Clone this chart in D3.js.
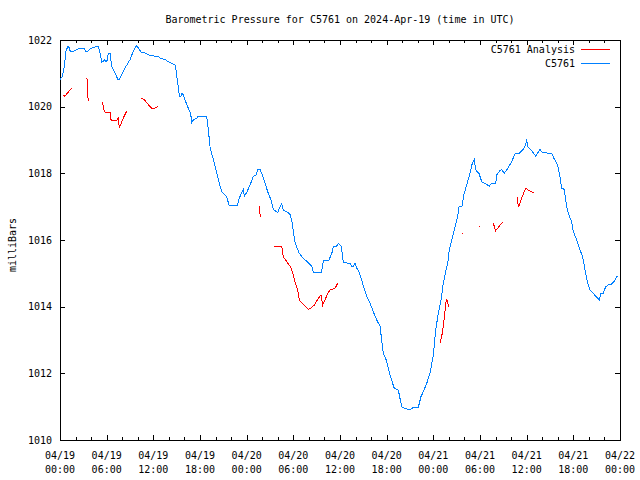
<!DOCTYPE html>
<html><head><meta charset="utf-8">
<script src="https://cdn.jsdelivr.net/npm/d3@7"></script>
<style>
body{margin:0;background:#fff}
text{font-family:"DejaVu Sans Mono",monospace;font-size:10px;fill:#000}
</style>
</head><body><svg id="c" width="640" height="480"></svg>
<script>
const titleText = "Barometric Pressure for C5761 on 2024-Apr-19 (time in UTC)";
const yLabel = "milliBars";
const seriesNames = ["C5761 Analysis", "C5761"];
const yTicks = [1010, 1012, 1014, 1016, 1018, 1020, 1022];
const startTime = Date.UTC(2024, 3, 19, 0, 0);
const endTime = Date.UTC(2024, 3, 22, 0, 0);

// Station observations: hours since 2024-04-19 00:00 UTC
const stationHours = [0,0.3,0.55,0.77,1.0,1.16,1.29,1.41,1.71,2.15,2.7,3.12,3.34,3.56,3.77,4.08,4.5,4.92,5.05,5.23,5.36,5.57,5.7,5.88,6.08,6.21,6.43,6.65,7.07,7.42,7.62,7.93,8.36,9.0,9.42,9.86,10.07,10.41,10.93,11.57,12.64,12.99,13.5,13.92,14.36,14.79,14.91,15.08,15.21,15.34,15.56,15.69,15.85,16.07,16.5,16.8,16.93,17.14,17.58,17.7,18.77,18.94,19.16,19.29,19.5,19.84,20.15,20.48,20.79,21.0,21.43,21.73,22.8,23.05,23.36,23.57,23.7,24.0,24.43,24.85,25.2,25.42,25.71,26.01,26.36,26.78,27.13,27.42,27.99,28.29,28.5,28.71,29.15,29.57,29.79,30.0,30.21,30.43,30.77,31.28,31.92,32.36,32.57,33.56,33.78,33.85,34.59,35.01,35.14,35.58,35.78,36.13,36.3,36.42,37.29,37.5,37.71,37.93,38.14,38.35,38.79,39.0,39.13,39.43,39.86,40.28,40.72,41.14,41.36,41.57,41.88,42.21,42.56,42.98,43.5,43.71,43.93,44.36,45.0,45.42,46.07,46.41,46.71,47.15,47.57,48.0,48.3,48.64,48.99,49.28,49.59,49.85,50.05,50.36,50.79,51.13,51.3,51.73,51.86,52.29,52.71,53.01,53.27,53.45,53.87,54.22,54.74,55.2,55.51,56.02,56.15,56.57,56.79,57.12,57.43,58.07,58.5,59.01,59.57,59.88,60.0,60.13,60.65,61.16,61.71,62.04,63.22,63.51,63.86,64.07,64.29,64.5,64.84,65.02,65.22,65.57,65.79,66.0,66.43,66.77,67.2,67.5,67.8,68.14,68.57,68.91,69.34,69.52,69.85,70.16,70.5,70.93,71.23,71.57,71.78];
const stationPressure = [1020.81,1020.91,1021.21,1021.66,1021.81,1021.78,1021.68,1021.64,1021.66,1021.71,1021.76,1021.76,1021.64,1021.66,1021.71,1021.76,1021.79,1021.81,1021.71,1021.51,1021.34,1021.36,1021.41,1021.36,1021.38,1021.61,1021.61,1021.21,1021.01,1020.83,1020.83,1020.96,1021.16,1021.41,1021.66,1021.84,1021.76,1021.64,1021.61,1021.53,1021.51,1021.44,1021.42,1021.35,1021.30,1021.25,1021.10,1020.80,1020.60,1020.32,1020.32,1020.42,1020.35,1020.20,1019.95,1019.80,1019.52,1019.60,1019.65,1019.72,1019.72,1019.60,1019.10,1018.80,1018.60,1018.30,1018.00,1017.70,1017.45,1017.40,1017.30,1017.05,1017.05,1017.25,1017.42,1017.52,1017.32,1017.42,1017.65,1017.90,1017.95,1018.12,1018.12,1017.95,1017.70,1017.40,1017.20,1016.92,1016.82,1017.00,1017.10,1016.90,1016.85,1016.77,1016.60,1016.25,1015.95,1015.78,1015.60,1015.45,1015.32,1015.22,1015.02,1015.02,1015.22,1015.40,1015.40,1015.65,1015.80,1015.82,1015.90,1015.82,1015.60,1015.32,1015.30,1015.22,1015.22,1015.30,1015.15,1015.10,1014.80,1014.60,1014.55,1014.30,1014.10,1013.85,1013.60,1013.42,1013.00,1012.60,1012.45,1012.15,1011.85,1011.55,1011.50,1011.25,1011.00,1010.95,1010.90,1010.98,1010.98,1011.30,1011.45,1011.70,1012.00,1012.55,1013.30,1013.80,1014.20,1014.70,1015.05,1015.30,1015.70,1016.00,1016.40,1016.70,1017.00,1017.02,1017.30,1017.65,1018.00,1018.30,1018.42,1018.10,1018.00,1017.75,1017.68,1017.62,1017.70,1017.70,1017.95,1018.08,1018.12,1018.00,1018.10,1018.35,1018.58,1018.60,1018.72,1018.85,1019.02,1018.80,1018.68,1018.52,1018.72,1018.62,1018.60,1018.45,1018.30,1018.15,1017.90,1017.55,1017.52,1017.20,1016.90,1016.65,1016.55,1016.25,1016.00,1015.75,1015.50,1015.10,1014.75,1014.50,1014.40,1014.30,1014.20,1014.40,1014.40,1014.60,1014.65,1014.68,1014.75,1014.90,1014.92];

// Analysis values (null = gap)
const analysisHours = [0.42,0.64,0.86,1.16,1.5,null,3.47,3.51,3.64,null,5.44,5.57,5.7,5.79,6.43,6.56,6.72,7.29,7.5,7.62,7.84,8.14,8.45,8.65,null,10.41,10.84,11.28,11.79,12.21,12.64,null,25.59,25.71,25.8,null,27.51,28.5,28.71,29.15,29.57,29.79,30.0,30.21,30.43,30.64,30.77,31.08,31.5,31.92,32.27,32.7,33.21,33.56,33.78,34.07,34.42,34.71,35.36,35.58,35.78,null,48.86,49.15,49.41,49.59,49.72,49.85,50.01,null,51.73,null,53.91,null,55.71,55.84,56.02,56.27,56.57,56.87,null,58.8,58.93,59.05,59.27,59.57,59.88,60.21,60.65,60.98];
const analysisPressure = [1020.34,1020.31,1020.38,1020.46,1020.56,null,1020.86,1020.51,1020.16,null,1020.14,1020.01,1019.86,1019.84,1019.84,1019.61,1019.58,1019.58,1019.66,1019.38,1019.48,1019.66,1019.81,1019.88,null,1020.26,1020.21,1020.08,1019.96,1019.96,1020.01,null,1017.02,1016.80,1016.68,null,1015.82,1015.82,1015.50,1015.35,1015.22,1015.10,1014.95,1014.75,1014.60,1014.40,1014.20,1014.12,1014.02,1013.92,1013.95,1014.05,1014.25,1014.35,1014.05,1014.20,1014.40,1014.50,1014.55,1014.65,1014.72,null,1012.90,1013.20,1013.65,1014.10,1014.22,1014.10,1014.00,null,1016.20,null,1016.43,null,1016.52,1016.40,1016.28,1016.35,1016.45,1016.53,null,1017.28,1016.98,1017.05,1017.20,1017.38,1017.55,1017.50,1017.45,1017.40];

const colors = ["#ff0000", "#0080ff"];

const svg = d3.select("#c");
const L = 60, R = 620, T = 40, B = 440;
svg.append("rect").attr("width", 640).attr("height", 480).attr("fill", "#fff");

const x = d3.scaleUtc().domain([new Date(startTime), new Date(endTime)]).range([L, R]);
const y = d3.scaleLinear().domain([1010, 1022]).range([B, T]);
const toDate = h => new Date(startTime + h * 3600000);

const station = stationHours.map((h, i) => ({t: toDate(h), p: stationPressure[i]}));
const analysis = analysisHours.map((h, i) => ({t: h == null ? null : toDate(h), p: analysisPressure[i]}));

// axes
const major = d3.utcHour.every(6).range(new Date(startTime), new Date(endTime + 1));
const minor = d3.utcHour.every(2).range(new Date(startTime), new Date(endTime + 1));

const gx = svg.append("g").attr("transform", `translate(0,${B})`)
  .call(d3.axisBottom(x).tickValues(minor).tickSizeInner(-3).tickSizeOuter(0).tickFormat(""));
const gxM = svg.append("g").attr("transform", `translate(0,${B})`)
  .call(d3.axisBottom(x).tickValues(major).tickSizeInner(-5).tickSizeOuter(0).tickFormat(""));
const gxT = svg.append("g").attr("transform", `translate(0,${T})`)
  .call(d3.axisTop(x).tickValues(minor).tickSizeInner(-3).tickSizeOuter(0).tickFormat(""));
const gxTM = svg.append("g").attr("transform", `translate(0,${T})`)
  .call(d3.axisTop(x).tickValues(major).tickSizeInner(-5).tickSizeOuter(0).tickFormat(""));
const gyL = svg.append("g").attr("transform", `translate(${L},0)`)
  .call(d3.axisLeft(y).tickValues(yTicks).tickSizeInner(-5).tickSizeOuter(0).tickPadding(8).tickFormat(d3.format("d")));
const gyR = svg.append("g").attr("transform", `translate(${R},0)`)
  .call(d3.axisRight(y).tickValues(yTicks).tickSizeInner(-5).tickSizeOuter(0).tickFormat(""));
[gx, gxM, gxT, gxTM, gyL, gyR].forEach(g => {
  g.select(".domain").remove();
  g.selectAll("line").attr("stroke", "#000").attr("shape-rendering", "crispEdges");
  g.attr("font-family", null).attr("font-size", null);
});
gyL.selectAll("text").attr("fill", "#000");

// two-line x labels
const fmtD = d3.utcFormat("%m/%d"), fmtH = d3.utcFormat("%H:%M");
const xl = svg.append("g");
major.forEach(d => {
  const t = xl.append("text").attr("text-anchor", "middle").attr("x", x(d));
  t.append("tspan").attr("x", x(d)).attr("y", B + 19).text(fmtD(d));
  t.append("tspan").attr("x", x(d)).attr("y", B + 33).text(fmtH(d));
});

// frame
svg.append("rect").attr("x", L).attr("y", T).attr("width", R - L).attr("height", B - T)
  .attr("fill", "none").attr("stroke", "#000").attr("shape-rendering", "crispEdges");

// lines
const line = d3.line().defined(d => d.t != null && d.p != null).x(d => x(d.t)).y(d => y(d.p));
svg.append("path").datum(analysis).attr("d", line).attr("fill", "none")
  .attr("stroke", colors[0]).attr("stroke-width", 1).attr("shape-rendering", "crispEdges");
// isolated analysis points
analysis.forEach((d, i) => {
  if (d.t == null) return;
  const prev = analysis[i - 1], next = analysis[i + 1];
  if ((!prev || prev.t == null) && (!next || next.t == null)) {
    svg.append("rect").attr("x", Math.round(x(d.t))).attr("y", Math.round(y(d.p))).attr("width", 1).attr("height", 1).attr("fill", colors[0]);
  }
});
svg.append("path").datum(station).attr("d", line).attr("fill", "none")
  .attr("stroke", colors[1]).attr("stroke-width", 1).attr("shape-rendering", "crispEdges");

// title & labels
svg.append("text").attr("x", 340).attr("y", 23).attr("text-anchor", "middle").text(titleText);
svg.append("text").attr("transform", "translate(16,245) rotate(-90)").attr("text-anchor", "middle").text(yLabel);

// legend
seriesNames.forEach((n, i) => {
  const cy = 49 + i * 14;
  svg.append("text").attr("x", 575).attr("y", cy + 4).attr("text-anchor", "end").text(n);
  svg.append("line").attr("x1", 581).attr("x2", 610).attr("y1", cy).attr("y2", cy)
    .attr("stroke", colors[i]).attr("stroke-width", 1).attr("shape-rendering", "crispEdges");
});
</script></body></html>
